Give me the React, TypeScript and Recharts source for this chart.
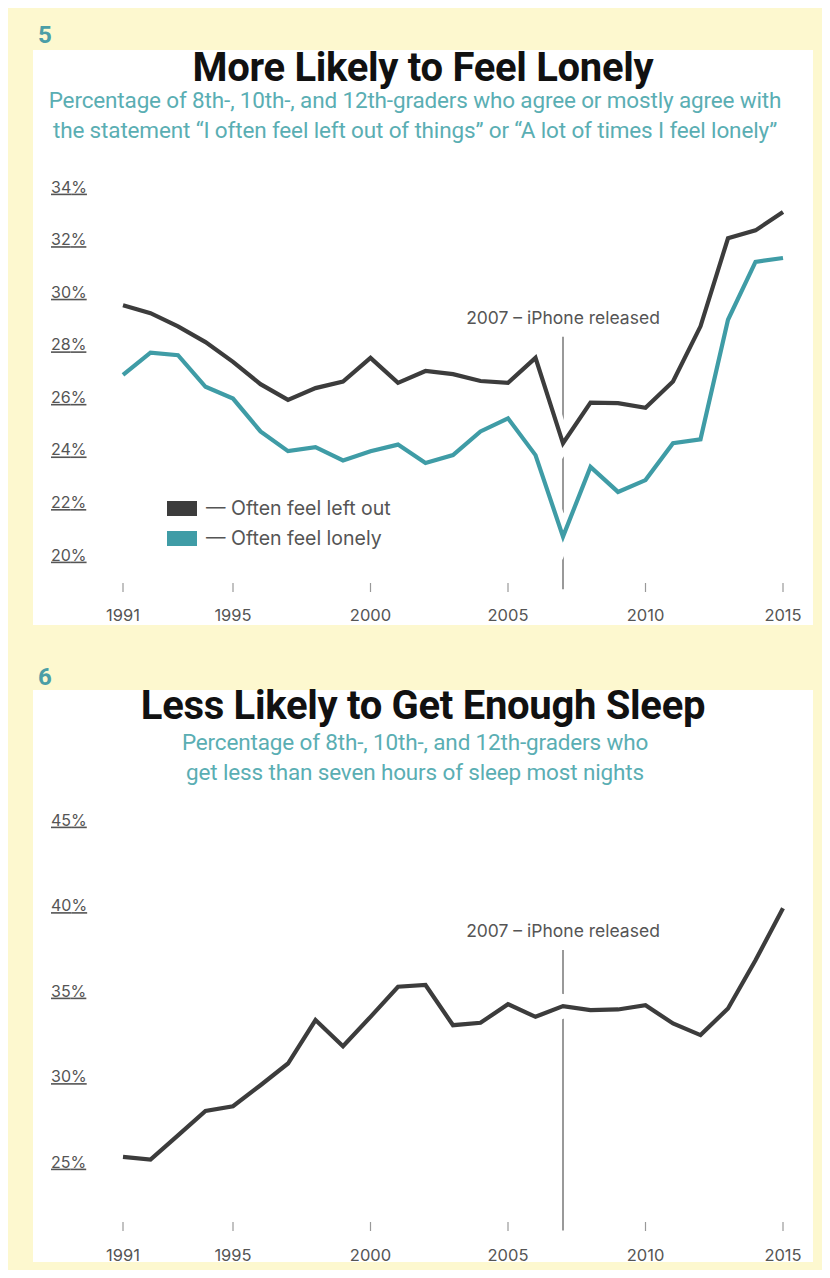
import { LineChart, Line, XAxis, YAxis, ReferenceLine, Label, Legend } from "recharts";

const years = [
  1991, 1992, 1993, 1994, 1995, 1996, 1997, 1998, 1999, 2000, 2001, 2002,
  2003, 2004, 2005, 2006, 2007, 2008, 2009, 2010, 2011, 2012, 2013, 2014, 2015,
];
const leftOut = [
  29.5, 29.2, 28.7, 28.1, 27.35, 26.5, 25.9, 26.35, 26.6, 27.5, 26.55, 27.0,
  26.88, 26.62, 26.55, 27.5, 24.25, 25.8, 25.78, 25.6, 26.6, 28.7, 32.05, 32.35, 33.05,
];
const lonely = [
  26.85, 27.7, 27.6, 26.4, 25.95, 24.7, 23.95, 24.1, 23.6, 23.95, 24.2, 23.5,
  23.8, 24.7, 25.2, 23.8, 20.7, 23.35, 22.4, 22.85, 24.25, 24.4, 28.95, 31.15, 31.3,
];
const sleepLess = [
  25.3, 25.14, 26.56, 27.99, 28.26, 29.49, 30.76, 33.3, 31.77, 33.49, 35.25, 35.35,
  33.0, 33.14, 34.23, 33.49, 34.12, 33.88, 33.92, 34.17, 33.1, 32.42, 33.98, 36.8, 39.84,
];
const xTicks = [1991, 1995, 2000, 2005, 2010, 2015];
const lonelyTicks = [20, 22, 24, 26, 28, 30, 32, 34];
const sleepTicks = [25, 30, 35, 40, 45];

// iPhone marker: year plus the span of the annotation line in data units
const iphoneYear = 2007;
const iphoneLabel = "2007 – iPhone released";
const lonelyMarkerSpan = [28.3, 18.7];
const sleepMarkerSpan = [37.4, 21.0];

const lonelyData = years.map((year, i) => ({ year, leftOut: leftOut[i], lonely: lonely[i] }));
const sleepData = years.map((year, i) => ({ year, sleep: sleepLess[i] }));

const YELLOW = "#fdf8cf";
const DARK = "#3c3c3c";
const TEAL = "#3f9ca6";
const SUB = "#5aaeb3";
const GRAY = "#555";
const FONT = "Inter, 'Noto Sans', sans-serif";
const HEAD = "Roboto, 'Noto Sans', sans-serif";

const YTick = (props: any) => {
  const { x, y, payload } = props;
  return (
    <text
      x={x - 72}
      y={y}
      dy="0.35em"
      textAnchor="start"
      fill={GRAY}
      fontSize={16}
      fontFamily={FONT}
      style={{ textDecoration: "underline" }}
    >
      {payload.value}%
    </text>
  );
};

const xTick = (markTop: number, labelOffset: number) => (props: any) => {
  const { x, y, payload } = props;
  return (
    <g>
      <line x1={x} x2={x} y1={y + markTop} y2={y + markTop + 9} stroke="#999" strokeWidth={1.2} />
      <text x={x} y={y + labelOffset} dy="0.35em" textAnchor="middle" fill={GRAY} fontSize={16.5} fontFamily={FONT}>
        {payload.value}
      </text>
    </g>
  );
};

const renderLegend = (props: any) => (
  <div>
    {(props.payload || [])
      .filter((p: any) => p.type !== "none")
      .map((p: any) => (
        <div key={p.value} style={{ display: "flex", alignItems: "center", height: 30 }}>
          <span style={{ width: 30, height: 15, background: p.color, marginRight: 9, display: "inline-block" }} />
          <span style={{ fontSize: 19.5, color: GRAY, fontFamily: FONT }}>— {p.value}</span>
        </div>
      ))}
  </div>
);

function LonelyChart() {
  return (
    <LineChart width={814} height={640} data={lonelyData} margin={{ top: 179, right: 39, left: 15, bottom: 13 }}>
      <XAxis
        dataKey="year"
        type="number"
        domain={[1991, 2015]}
        ticks={xTicks}
        axisLine={false}
        tickLine={false}
        tickSize={0}
        tickMargin={0}
        height={80}
        tick={xTick(28, 60)}
      />
      <YAxis
        domain={[20, 34]}
        ticks={lonelyTicks}
        axisLine={false}
        tickLine={false}
        tickSize={0}
        tickMargin={0}
        width={100}
        tick={YTick}
      />
      <ReferenceLine
        segment={[
          { x: iphoneYear, y: lonelyMarkerSpan[0] },
          { x: iphoneYear, y: lonelyMarkerSpan[1] },
        ]}
        stroke="#777"
        strokeWidth={1.5}
        ifOverflow="visible"
        zIndex={-10}
      >
        <Label value={iphoneLabel} position="top" offset={13} fill={GRAY} fontSize={17.5} fontFamily={FONT} />
      </ReferenceLine>
      <Line dataKey="leftOut" stroke="#fff" strokeWidth={16} dot={false} activeDot={false} legendType="none" isAnimationActive={false} />
      <Line dataKey="lonely" stroke="#fff" strokeWidth={16} dot={false} activeDot={false} legendType="none" isAnimationActive={false} />
      <Line
        dataKey="leftOut"
        name="Often feel left out"
        type="linear"
        stroke={DARK}
        strokeWidth={4.2}
        dot={false}
        isAnimationActive={false}
      />
      <Line
        dataKey="lonely"
        name="Often feel lonely"
        type="linear"
        stroke={TEAL}
        strokeWidth={4.2}
        dot={false}
        isAnimationActive={false}
      />
      <Legend
        layout="vertical"
        align="center"
        verticalAlign="middle"
        content={renderLegend}
        wrapperStyle={{ left: 159, top: 485, width: 280, height: 60 }}
      />
    </LineChart>
  );
}

function SleepChart() {
  return (
    <LineChart width={814} height={630} data={sleepData} margin={{ top: 172, right: 39, left: 15, bottom: 16 }}>
      <XAxis
        dataKey="year"
        type="number"
        domain={[1991, 2015]}
        ticks={xTicks}
        axisLine={false}
        tickLine={false}
        tickSize={0}
        tickMargin={0}
        height={100}
        tick={xTick(60, 93)}
      />
      <YAxis
        domain={[25, 45]}
        ticks={sleepTicks}
        axisLine={false}
        tickLine={false}
        tickSize={0}
        tickMargin={0}
        width={100}
        tick={YTick}
      />
      <ReferenceLine
        segment={[
          { x: iphoneYear, y: sleepMarkerSpan[0] },
          { x: iphoneYear, y: sleepMarkerSpan[1] },
        ]}
        stroke="#777"
        strokeWidth={1.5}
        ifOverflow="visible"
        zIndex={-10}
      >
        <Label value={iphoneLabel} position="top" offset={13} fill={GRAY} fontSize={17.5} fontFamily={FONT} />
      </ReferenceLine>
      <Line dataKey="sleep" stroke="#fff" strokeWidth={24} dot={false} activeDot={false} legendType="none" isAnimationActive={false} />
      <Line dataKey="sleep" type="linear" stroke={DARK} strokeWidth={4.2} dot={false} isAnimationActive={false} />
    </LineChart>
  );
}

const numStyle = { position: "absolute" as const, left: 30, fontFamily: HEAD, fontWeight: 700, fontSize: 24, lineHeight: "24px", color: "#4b9ea6" };
const titleStyle = { position: "absolute" as const, left: 25, width: 780, textAlign: "center" as const, fontFamily: HEAD, fontWeight: 700, fontSize: 40, lineHeight: "42px", letterSpacing: -0.3, color: "#111" };
const subStyle = { position: "absolute" as const, left: 17, width: 780, textAlign: "center" as const, fontFamily: HEAD, fontSize: 22.5, lineHeight: "30px", letterSpacing: -0.15, color: SUB };

export default function App() {
  return (
    <div style={{ position: "relative", width: 814, height: 1262, background: YELLOW }}>
      <div style={{ position: "absolute", left: 25, top: 42, width: 780, height: 575, background: "#fff" }} />
      <div style={{ position: "absolute", left: 25, top: 682, width: 780, height: 572, background: "#fff" }} />

      <div style={{ position: "absolute", left: 0, top: 0 }}>
        <LonelyChart />
      </div>
      <div style={{ position: "absolute", left: 0, top: 640 }}>
        <SleepChart />
      </div>

      <div style={{ ...numStyle, top: 15 }}>5</div>
      <div style={{ ...titleStyle, top: 39 }}>More Likely to Feel Lonely</div>
      <div style={{ ...subStyle, top: 77 }}>
        Percentage of 8th-, 10th-, and 12th-graders who agree or mostly agree with
        <br />
        the statement “I often feel left out of things” or “A lot of times I feel lonely”
      </div>

      <div style={{ ...numStyle, top: 657 }}>6</div>
      <div style={{ ...titleStyle, top: 677 }}>Less Likely to Get Enough Sleep</div>
      <div style={{ ...subStyle, top: 719 }}>
        Percentage of 8th-, 10th-, and 12th-graders who
        <br />
        get less than seven hours of sleep most nights
      </div>
    </div>
  );
}
